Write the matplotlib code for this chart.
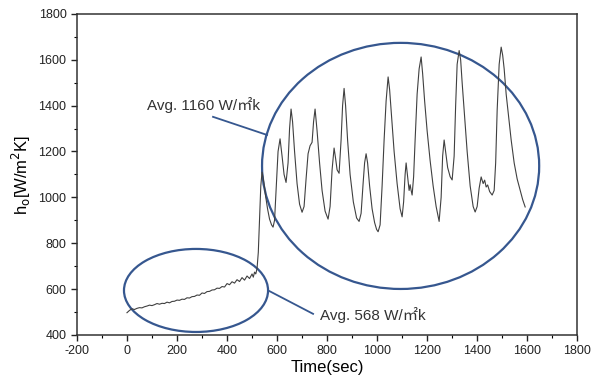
import matplotlib
matplotlib.use("Agg")
import matplotlib.pyplot as plt
from matplotlib.patches import Ellipse
from matplotlib.ticker import MultipleLocator

# readings of the trace: time (sec) and h_o (W/m2K)
TIME = [
    0, 10, 20, 30, 40, 50, 60, 70, 80, 90, 100, 110, 120, 130, 140, 150, 160, 170, 180, 190,
    200, 210, 220, 230, 240, 250, 260, 270, 280, 290, 300, 310, 320, 330, 340, 350, 360, 370,
    380, 390, 400, 410, 420, 430, 440, 450, 460, 470, 480, 490, 500, 505, 510, 515, 520, 525,
    530, 535, 540, 548, 555, 562, 570, 578, 584, 590, 597, 604, 612, 620, 628, 636, 644, 650,
    656, 662, 670, 680, 690, 700, 708, 716, 724, 732, 740, 746, 752, 760, 770, 780, 792, 804,
    812, 820, 828, 834, 840, 848, 856, 862, 868, 874, 882, 892, 905, 918, 928, 936, 944, 950,
    956, 962, 970, 980, 990, 998, 1004, 1012, 1020, 1028, 1036, 1044, 1050, 1058, 1068, 1080,
    1092, 1100, 1106, 1112, 1116, 1122, 1128, 1132, 1136, 1140, 1146, 1152, 1160, 1168, 1176,
    1182, 1190, 1200, 1212, 1224, 1236, 1248, 1256, 1262, 1268, 1274, 1282, 1292, 1300, 1308,
    1314, 1320, 1328, 1334, 1340, 1350, 1360, 1372, 1384, 1392, 1400, 1408, 1416, 1424, 1430,
    1436, 1442, 1450, 1460, 1468, 1474, 1480, 1488, 1496, 1502, 1508, 1516, 1526, 1536, 1548,
    1560, 1572, 1582, 1592,
]
H_O = [
    497, 507, 514, 511, 516, 519, 518, 523, 526, 530, 528, 532, 537, 534, 538, 537, 543, 540, 546, 547,
    552, 551, 556, 555, 562, 561, 567, 568, 574, 573, 583, 581, 589, 590, 596, 597, 604, 603,
    611, 609, 624, 619, 632, 626, 641, 633, 650, 639, 657, 646, 666, 652, 674, 666, 690, 760,
    900, 1050, 1110, 1060, 1000, 950, 905, 880, 870, 900, 1050, 1200, 1255, 1180, 1100, 1065, 1150, 1300,
    1385, 1330, 1200, 1060, 970, 935, 960, 1080, 1190, 1225, 1240, 1330, 1385, 1290, 1150, 1030, 940, 905,
    960, 1120, 1215, 1170, 1120, 1105, 1250, 1400, 1475, 1400, 1250, 1100, 980, 910, 895, 930, 1060, 1150,
    1190, 1150, 1050, 950, 890, 860, 850, 880, 1050, 1250, 1420, 1525, 1470, 1350, 1200, 1060,
    950, 915, 980, 1100, 1150, 1090, 1030, 1055, 1030, 1010, 1090, 1250, 1450, 1560, 1612,
    1540, 1420, 1290, 1160, 1050, 960, 895, 1000, 1180, 1250, 1200, 1130, 1090, 1076, 1180,
    1400, 1580, 1640, 1600, 1500, 1350, 1200, 1050, 960, 936, 960, 1040, 1089, 1060, 1075,
    1045, 1054, 1025, 1010, 1030, 1150, 1380, 1580, 1655, 1620, 1560, 1450, 1350, 1250, 1150,
    1080, 1030, 990, 958,
]

AVG_HIGH = "Avg. 1160 W/㎡k"
AVG_LOW = "Avg. 568 W/㎡k"

ELLIPSE_BLUE = "#36578f"
FONTS = ["Liberation Sans", "Noto Sans CJK KR", "DejaVu Sans"]

plt.rcParams["font.family"] = FONTS
plt.rcParams["axes.unicode_minus"] = False

fig = plt.figure(figsize=(5.92, 3.85), dpi=100)
ax = fig.add_axes([0.130, 0.130, 0.845, 0.834])

ax.plot(TIME, H_O, color="#404040", linewidth=0.8)

# highlight ellipses around the two regimes
ax.add_patch(Ellipse((1094, 1137), 1108, 1073, fill=False, edgecolor=ELLIPSE_BLUE, linewidth=1.6))
ax.add_patch(Ellipse((276, 594), 576, 362, fill=False, edgecolor=ELLIPSE_BLUE, linewidth=1.6))

# leader lines + labels
ax.plot([344, 560], [1351, 1272], color=ELLIPSE_BLUE, linewidth=1.3)
ax.text(80, 1403, AVG_HIGH, fontsize=11, color="#333333", ha="left", va="center")
ax.plot([568, 744], [592, 492], color=ELLIPSE_BLUE, linewidth=1.3)
ax.text(772, 487, AVG_LOW, fontsize=11, color="#333333", ha="left", va="center")

ax.set_xlim(-200, 1800)
ax.set_ylim(400, 1800)
ax.xaxis.set_major_locator(MultipleLocator(200))
ax.xaxis.set_minor_locator(MultipleLocator(100))
ax.yaxis.set_major_locator(MultipleLocator(200))
ax.yaxis.set_minor_locator(MultipleLocator(100))
ax.tick_params(which="major", direction="out", length=4, width=1.0, labelsize=9, colors="#222222")
ax.tick_params(which="minor", direction="out", length=2.5, width=0.8)

for spine in ax.spines.values():
    spine.set_color("#333333")
    spine.set_linewidth(1.1)

ax.set_xlabel("Time(sec)", fontsize=12, labelpad=2)
ax.set_ylabel("h$_\\mathrm{o}$[W/m$^\\mathrm{2}$K]", fontsize=12, labelpad=4)

fig.savefig("out.png", dpi=100)
